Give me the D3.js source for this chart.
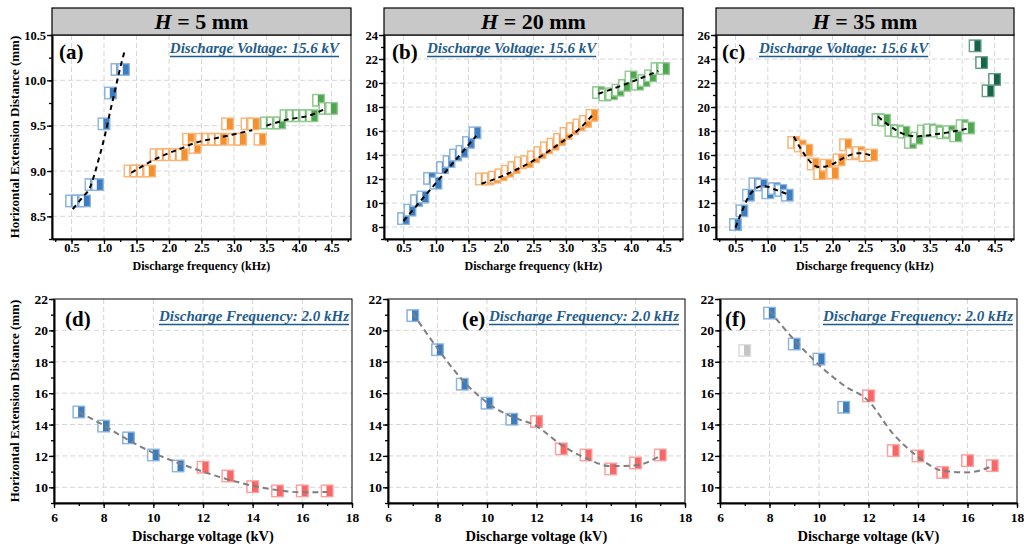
<!DOCTYPE html>
<html><head><meta charset="utf-8">
<script src="https://cdn.jsdelivr.net/npm/d3@7/dist/d3.min.js"></script>
<style>body{margin:0;background:#fff}
#c, #c text{font-family:"Liberation Serif","Times New Roman",Times,"DejaVu Serif",serif !important;font-weight:bold}</style>
</head><body><svg id="c" width="1024" height="549" font-family="Liberation Serif"></svg>
<script>
// ---------------- DATA ----------------
// Panel (a) H = 5 mm, frequency sweep
const aBlueX = [0.5,0.6,0.7,0.8,0.9,1.0,1.1,1.2,1.3];
const aBlueY = [8.67,8.67,8.67,8.85,8.85,9.52,9.86,10.12,10.12];
const aOrangeX = [1.4,1.5,1.6,1.7,1.8,1.9,2.0,2.1,2.2,2.3,2.4,2.5,2.6,2.7,2.8,2.9,3.0,3.1,3.2,3.3,3.4];
const aOrangeY = [9.0,9.0,9.0,9.0,9.18,9.18,9.18,9.18,9.18,9.35,9.26,9.35,9.35,9.35,9.35,9.52,9.35,9.35,9.52,9.52,9.35];
const aGreenX = [3.5,3.6,3.7,3.8,3.9,4.0,4.1,4.2,4.3,4.4,4.5];
const aGreenY = [9.53,9.53,9.53,9.61,9.61,9.61,9.61,9.61,9.78,9.69,9.69];
const aFitBlueX = [0.52,0.68,0.78,0.86,0.93,1.01,1.09,1.17,1.24,1.32];
const aFitBlueY = [8.58,8.72,8.81,8.98,9.16,9.38,9.64,9.89,10.11,10.33];
const aFitOrangeX = [1.42,1.68,1.94,2.19,2.40,2.71,2.97,3.28];
const aFitOrangeY = [8.98,9.09,9.18,9.25,9.31,9.36,9.40,9.45];
const aFitGreenX = [3.5,3.84,4.15,4.42];
const aFitGreenY = [9.50,9.57,9.61,9.69];

// Panel (b) H = 20 mm
const bBlueX = [0.5,0.6,0.7,0.8,0.9,1.0,1.1,1.2,1.3,1.4,1.5,1.6];
const bBlueY = [8.7,9.4,10.2,10.5,12.05,11.65,12.95,13.45,14.0,14.3,15.05,15.85];
const bOrangeX = [1.7,1.8,1.9,2.0,2.1,2.2,2.3,2.4,2.5,2.6,2.7,2.8,2.9,3.0,3.1,3.2,3.3,3.4];
const bOrangeY = [12.0,12.0,12.15,12.35,12.65,12.95,13.35,13.45,13.85,14.2,14.6,14.9,15.3,15.8,16.2,16.5,16.8,17.3];
const bGreenX = [3.5,3.6,3.7,3.8,3.9,4.0,4.1,4.2,4.3,4.4,4.5];
const bGreenY = [19.2,19.0,19.1,19.4,19.8,20.5,19.9,20.2,20.6,21.2,21.2];
const bFitBlueX = [0.5,1.62];
const bFitBlueY = [8.5,15.6];
const bFitOrangeX = [1.7,2.0,2.3,2.6,2.9,3.2,3.42];
const bFitOrangeY = [11.6,12.2,12.95,13.85,14.95,16.15,17.4];
const bFitGreenX = [3.5,3.94,4.42];
const bFitGreenY = [19.1,19.95,21.0];

// Panel (c) H = 35 mm
const cBlueX = [0.5,0.6,0.7,0.8,0.9,1.0,1.1,1.2,1.3];
const cBlueY = [10.2,11.35,12.65,13.6,13.5,12.85,13.2,13.05,12.65];
const cOrangeX = [1.4,1.5,1.6,1.7,1.8,1.9,2.0,2.1,2.2,2.3,2.4,2.5,2.6];
const cOrangeY = [17.05,16.75,16.4,15.25,14.45,15.15,14.5,15.6,16.85,16.1,16.2,15.95,16.0];
const cGreenX = [2.7,2.8,2.9,3.0,3.1,3.2,3.3,3.4,3.5,3.6,3.7,3.8,3.9,4.0,4.1];
const cGreenY = [18.95,18.9,18.05,18.0,17.9,17.05,17.4,18.0,18.1,18.0,17.85,17.95,17.6,18.45,18.25];
const cDarkX = [4.2,4.3,4.4,4.5];
const cDarkY = [25.1,23.7,21.35,22.3];
const cFitBlueX = [0.5,0.6,0.7,0.8,0.9,1.0,1.1,1.2,1.3];
const cFitBlueY = [9.95,11.3,12.5,13.15,13.4,13.35,13.15,12.95,12.75];
const cFitOrangeX = [1.4,1.5,1.6,1.7,1.8,1.9,2.0,2.1,2.2,2.3,2.4,2.5,2.6];
const cFitOrangeY = [17.55,16.6,15.8,15.2,15.0,15.05,15.25,15.55,15.85,16.05,16.15,16.1,15.95];
const cFitGreenX = [2.7,2.8,2.9,3.0,3.1,3.2,3.3,3.4,3.5,3.6,3.7,3.8,3.9,4.0,4.1];
const cFitGreenY = [19.2,18.75,18.35,18.0,17.75,17.6,17.55,17.6,17.65,17.75,17.8,17.9,18.0,18.1,18.25];

// Panels (d)(e)(f) voltage sweep at 2.0 kHz
const voltLow = [7,8,9,10,11];
const voltHigh = [12,13,14,15,16,17];
const dLowY = [14.8,13.9,13.15,12.06,11.36];
const dHighY = [11.28,10.72,10.04,9.77,9.77,9.77];
const dFitX = [7,8,9,10,11,12,13,14,15,16,17];
const dFitY = [14.8,13.95,13.0,12.2,11.55,11.0,10.5,10.1,9.82,9.68,9.7];
const eLowY = [20.94,18.77,16.57,15.36,14.34];
const eHighY = [14.19,12.45,12.06,11.17,11.55,12.06];
const eFitX = [7,8,9,10,11,12,13,14,15,16,17];
const eFitY = [21.1,18.85,16.85,15.4,14.5,13.9,12.7,11.85,11.35,11.4,12.0];
const fGrayX = [7];
const fGrayY = [18.72];
const fLowX = [8,9,10,11];
const fLowY = [21.1,19.13,18.17,15.1];
const fHighY = [15.83,12.34,12.0,10.94,11.7,11.38];
const fFitX = [8,9,10,11,12,13,14,15,16,17];
const fFitY = [21.25,19.4,17.8,16.5,15.5,13.4,11.95,11.05,10.95,11.35];

// tick values
const freqTicks = [0.5,1.0,1.5,2.0,2.5,3.0,3.5,4.0,4.5];
const aYTicks = [8.5,9.0,9.5,10.0,10.5];
const bYTicks = [8,10,12,14,16,18,20,22,24];
const cYTicks = [10,12,14,16,18,20,22,24,26];
const voltTicks = [6,8,10,12,14,16,18];
const vYTicks = [10,12,14,16,18,20,22];
const headers = ["5","20","35"];
const panelLabels = ["(a)","(b)","(c)","(d)","(e)","(f)"];
const noteTop = "Discharge Voltage: 15.6 kV";
const noteBottom = "Discharge Frequency: 2.0 kHz";

// ---------------- STYLE ----------------
const FONT = '"Liberation Serif","Times New Roman",serif';
const COL = {
  blue:   {fill:"#3d7dbf", edge:"#8db5de"},
  orange: {fill:"#f5902f", edge:"#f8b577"},
  green:  {fill:"#4ea64f", edge:"#91c991"},
  dark:   {fill:"#166548", edge:"#5f9d85"},
  red:    {fill:"#f86666", edge:"#fb9f9f"},
  gray:   {fill:"#c4c4c4", edge:"#dddddd"}
};
const NOTE = "#1f5c8b";
const svg = d3.select("#c");

function range(a,b,s){const r=[];for(let v=a;v<=b+1e-9;v+=s)r.push(+v.toFixed(4));return r;}
function T(sel){return sel.attr("font-family",FONT).attr("font-weight","bold");}

function drawPanel(p){
  const x = d3.scaleLinear().domain(p.xd).range([p.L,p.R]);
  const y = d3.scaleLinear().domain(p.yd).range([p.B,p.T]);
  const g = svg.append("g");
  g.selectAll(null).data(p.xt.filter(v=>x(v)>p.L+2&&x(v)<p.R-2)).join("line")
    .attr("x1",d=>x(d)).attr("x2",d=>x(d)).attr("y1",p.T).attr("y2",p.B)
    .attr("stroke","#d6d6d6").attr("stroke-width",1).attr("stroke-dasharray","5,3");
  g.selectAll(null).data(p.yt.filter(v=>y(v)>p.T+2&&y(v)<p.B-2)).join("line")
    .attr("y1",d=>y(d)).attr("y2",d=>y(d)).attr("x1",p.L).attr("x2",p.R)
    .attr("stroke","#d6d6d6").attr("stroke-width",1).attr("stroke-dasharray","5,3");
  g.append("rect").attr("x",p.L).attr("y",p.T).attr("width",p.R-p.L).attr("height",p.B-p.T)
    .attr("fill","none").attr("stroke","#000").attr("stroke-width",1);
  const gxm = g.append("g").attr("transform",`translate(0,${p.B})`)
    .call(d3.axisBottom(x).tickValues(p.xm).tickFormat("").tickSize(3).tickSizeOuter(0));
  gxm.select(".domain").remove();
  const gym = g.append("g").attr("transform",`translate(${p.L},0)`)
    .call(d3.axisLeft(y).tickValues(p.ym).tickFormat("").tickSize(3).tickSizeOuter(0));
  gym.select(".domain").remove();
  const gx = g.append("g").attr("transform",`translate(0,${p.B})`)
    .call(d3.axisBottom(x).tickValues(p.xt).tickFormat(p.xf).tickSize(5).tickSizeOuter(0));
  const gy = g.append("g").attr("transform",`translate(${p.L},0)`)
    .call(d3.axisLeft(y).tickValues(p.yt).tickFormat(p.yf).tickSize(5).tickSizeOuter(0));
  [gx,gy,gxm,gym].forEach(a=>{a.attr("font-family",FONT).attr("font-size",null);
    a.selectAll("line").attr("stroke","#000").attr("stroke-width",1.3);});
  [gx,gy].forEach(a=>a.select(".domain").attr("stroke","#000").attr("stroke-width",2));
  T(gx.selectAll("text")).attr("font-size",p.fs).attr("fill","#000").attr("y",p.xly).attr("dy","0.71em");
  T(gy.selectAll("text")).attr("font-size",p.fs).attr("fill","#000").attr("x",-6).attr("dy","0.34em");
  p.series.forEach(s=>{
    const c = COL[s.c];
    s.x.forEach((xv,i)=>{
      const m = g.append("g").attr("transform",`translate(${x(xv)},${y(s.y[i])})`);
      m.append("rect").attr("x",-5.8).attr("y",-5.8).attr("width",11.6).attr("height",11.6)
        .attr("fill",c.fill).attr("stroke",c.edge).attr("stroke-width",1.3);
      m.append("rect").attr("x",-5.1).attr("y",-5.1).attr("width",4.4).attr("height",10.2).attr("fill","#fff");
    });
  });
  const line = d3.line().x(d=>x(d[0])).y(d=>y(d[1])).curve(d3.curveMonotoneX);
  p.fits.forEach(f=>{
    g.append("path").attr("d",line(f.x.map((v,i)=>[v,f.y[i]])))
      .attr("fill","none").attr("stroke",p.fitColor).attr("stroke-width",2).attr("stroke-dasharray",p.fitDash);
  });
}

const f1 = d3.format(".1f"), f0 = d3.format("d");
const topCfg = {T:35,B:239,xd:[0.2,4.8],xt:freqTicks,xm:range(0.25,4.75,0.25),xf:f1,fs:12.5,xly:4,fitColor:"#000",fitDash:"5,4"};
const botCfg = {T:299,B:503,xd:[6,18],xt:voltTicks,xm:range(6,18,1),yd:[9,22],yt:vYTicks,ym:range(9,22,1),xf:f0,yf:f0,fs:13.5,xly:9,fitColor:"#7f7f7f",fitDash:"6,4"};

const panels = [
  Object.assign({},topCfg,{L:52,R:351,yd:[8.25,10.5],yt:aYTicks,ym:range(8.25,10.5,0.25),yf:f1,
    series:[{x:aBlueX,y:aBlueY,c:"blue"},{x:aOrangeX,y:aOrangeY,c:"orange"},{x:aGreenX,y:aGreenY,c:"green"}],
    fits:[{x:aFitBlueX,y:aFitBlueY},{x:aFitOrangeX,y:aFitOrangeY},{x:aFitGreenX,y:aFitGreenY}]}),
  Object.assign({},topCfg,{L:384,R:683,yd:[7,24],yt:bYTicks,ym:range(7,24,1),yf:f0,
    series:[{x:bBlueX,y:bBlueY,c:"blue"},{x:bOrangeX,y:bOrangeY,c:"orange"},{x:bGreenX,y:bGreenY,c:"green"}],
    fits:[{x:bFitBlueX,y:bFitBlueY},{x:bFitOrangeX,y:bFitOrangeY},{x:bFitGreenX,y:bFitGreenY}]}),
  Object.assign({},topCfg,{L:716,R:1014,yd:[9,26],yt:cYTicks,ym:range(9,26,1),yf:f0,
    series:[{x:cBlueX,y:cBlueY,c:"blue"},{x:cOrangeX,y:cOrangeY,c:"orange"},{x:cGreenX,y:cGreenY,c:"green"},{x:cDarkX,y:cDarkY,c:"dark"}],
    fits:[{x:cFitBlueX,y:cFitBlueY},{x:cFitOrangeX,y:cFitOrangeY},{x:cFitGreenX,y:cFitGreenY}]}),
  Object.assign({},botCfg,{L:54,R:352,
    series:[{x:voltLow,y:dLowY,c:"blue"},{x:voltHigh,y:dHighY,c:"red"}],fits:[{x:dFitX,y:dFitY}]}),
  Object.assign({},botCfg,{L:388,R:685,
    series:[{x:voltLow,y:eLowY,c:"blue"},{x:voltHigh,y:eHighY,c:"red"}],fits:[{x:eFitX,y:eFitY}]}),
  Object.assign({},botCfg,{L:720,R:1017,
    series:[{x:fGrayX,y:fGrayY,c:"gray"},{x:fLowX,y:fLowY,c:"blue"},{x:voltHigh,y:fHighY,c:"red"}],fits:[{x:fFitX,y:fFitY}]})
];
panels.forEach(drawPanel);

panels.slice(0,3).forEach((p,i)=>{
  svg.append("rect").attr("x",p.L).attr("y",8).attr("width",p.R-p.L).attr("height",27)
    .attr("fill","#c8c8c8").attr("stroke","#000").attr("stroke-width",1.2);
  const t = T(svg.append("text")).attr("x",(p.L+p.R)/2).attr("y",29).attr("text-anchor","middle").attr("font-size",22);
  t.append("tspan").attr("font-style","italic").text("H");
  t.append("tspan").text(" = "+headers[i]+" mm");
});

const lblPos = [[59,59],[392,59],[722,59],[65,326],[462,326],[725,326]];
panelLabels.forEach((l,i)=>T(svg.append("text")).attr("x",lblPos[i][0]).attr("y",lblPos[i][1]).attr("font-size",21).text(l));

function note(txt,x,yb,anchor,fs){
  const t = T(svg.append("text")).attr("x",x).attr("y",yb).attr("font-size",fs).attr("font-style","italic")
    .attr("fill",NOTE).attr("text-anchor",anchor).text(txt);
  const w = t.node().getComputedTextLength();
  const x0 = anchor==="end"? x-w : x;
  svg.append("line").attr("x1",x0).attr("x2",x0+w).attr("y1",yb+3.5).attr("y2",yb+3.5)
    .attr("stroke",NOTE).attr("stroke-width",1.5);
}
note(noteTop,339,53,"end",15);
note(noteTop,427,53,"start",15);
note(noteTop,759,53,"start",15);
note(noteBottom,349,321,"end",15);
note(noteBottom,679,321,"end",15);
note(noteBottom,1013,321,"end",15);

panels.slice(0,3).forEach(p=>T(svg.append("text")).attr("x",(p.L+p.R)/2).attr("y",270).attr("text-anchor","middle").attr("font-size",12).text("Discharge frequency (kHz)"));
panels.slice(3).forEach(p=>T(svg.append("text")).attr("x",(p.L+p.R)/2).attr("y",541).attr("text-anchor","middle").attr("font-size",14.5).text("Discharge voltage (kV)"));
[137,401].forEach(cy=>T(svg.append("text")).attr("transform",`translate(19,${cy}) rotate(-90)`).attr("text-anchor","middle").attr("font-size",13).text("Horizontal Extension Distance (mm)"));
</script></body></html>
